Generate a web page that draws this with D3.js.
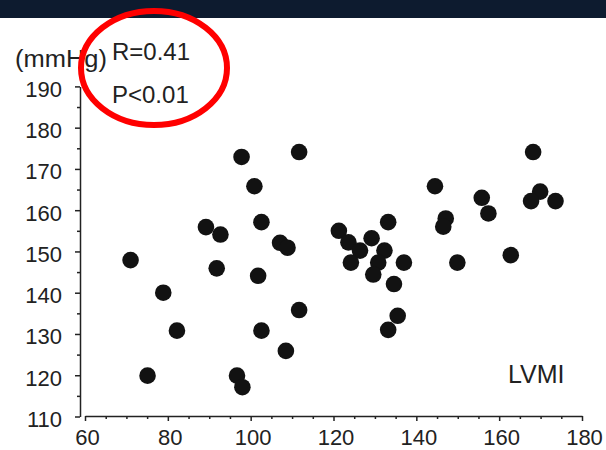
<!doctype html>
<html lang=en>
<head>
  <meta charset=utf-8>
  <title>LVMI vs blood pressure</title>
  <style>
    html, body {
      margin: 0;
      padding: 0;
      background: white;
    }
    svg {
      display: block;
      font-family: 'Liberation Sans', Arial, sans-serif;
    }
    .axis path, .axis line {
      stroke: #222;
      stroke-width: 1.5;
    }
    .axis text {
      fill: #222;
    }
  </style>
  <script src="https://cdn.jsdelivr.net/npm/d3@7"></script>
</head>
<body>
<svg id=chart width=606 height=450></svg>
<script>
  // LVMI on x, pressure (mmHg) on y
  const lvmi = [
    97.8, 111.7, 100.9, 102.6, 89.2, 92.7, 107.1, 108.9, 71.0, 91.8,
    101.8, 78.9, 111.7, 82.2, 102.6, 108.5, 75.1, 96.7, 98.0,
    168.2, 144.5, 155.8, 169.9, 167.7, 173.6, 157.4, 133.2, 147.1, 146.5,
    121.3, 123.6, 129.2, 126.4, 132.3, 124.2, 130.8, 129.6, 137.0, 149.9,
    162.8, 134.6, 135.5, 133.2,
  ]
  const sbp = [
    172.9, 174.1, 165.8, 157.1, 155.9, 154.1, 152.1, 150.9, 147.9, 145.9,
    144.1, 140.0, 135.8, 130.8, 130.8, 125.9, 119.9, 119.9, 117.1,
    174.1, 165.8, 163.0, 164.5, 162.2, 162.2, 159.2, 157.1, 158.0, 156.0,
    155.0, 152.2, 153.2, 150.2, 150.2, 147.3, 147.3, 144.4, 147.3, 147.3,
    149.1, 142.1, 134.4, 131.0,
  ]
  const xTicks = [60, 80, 100, 120, 140, 160, 180]
  const xMinor = d3.range(65, 180, 5).filter(v => v % 20 !== 0)
  const yTicks = [110, 120, 130, 140, 150, 160, 170, 180, 190]
  const yMinor = d3.range(115, 190, 10)

  const stats = ['R=0.41', 'P<0.01']

  const svg = d3.select('#chart')

  // dark strip along the top edge
  svg.append('rect')
    .attr('width', 606)
    .attr('height', 18)
    .attr('fill', '#0d1b2f')

  const x = d3.scaleLinear()
    .domain([60, 180])
    .range([85, 582])
  const y = d3.scaleLinear()
    .domain([110, 190])
    .range([416.5, 86.4])

  const gx = svg.append('g')
    .attr('class', 'axis')
    .attr('transform', 'translate(0,416)')
  gx.call(d3.axisBottom(x).tickValues(xTicks).tickSize(5).tickSizeOuter(0).tickPadding(8.5))
  gx.append('g')
    .call(d3.axisBottom(x).tickValues(xMinor).tickSize(3).tickFormat(''))
    .select('.domain').remove()
  gx.selectAll('text')
    .attr('font-size', 22)
    .attr('dx', 2)

  const gy = svg.append('g')
    .attr('class', 'axis')
    .attr('transform', 'translate(80,0)')
  gy.call(d3.axisLeft(y).tickValues(yTicks).tickSize(5).tickSizeOuter(0).tickPadding(13))
  gy.append('g')
    .call(d3.axisLeft(y).tickValues(yMinor).tickSize(3).tickFormat(''))
    .select('.domain').remove()
  gy.selectAll('text')
    .attr('font-size', 22)
    .attr('dy', '0.45em')

  svg.append('g')
    .selectAll('circle')
    .data(d3.zip(lvmi, sbp))
    .enter()
    .append('circle')
      .attr('cx', d => x(d[0]))
      .attr('cy', d => y(d[1]))
      .attr('r', 8.3)
      .attr('fill', '#121212')

  svg.append('text')
    .attr('x', 15)
    .attr('y', 67)
    .attr('font-size', 23)
    .attr('textLength', 92)
    .attr('lengthAdjust', 'spacingAndGlyphs')
    .attr('fill', '#222')
    .text('(mmHg)')

  svg.append('g')
    .selectAll('text')
    .data(stats)
    .enter()
    .append('text')
      .attr('x', 112)
      .attr('y', (d, i) => 60 + i * 43)
      .attr('font-size', 24)
      .attr('fill', '#222')
      .text(d => d)

  svg.append('text')
    .attr('x', 508)
    .attr('y', 383)
    .attr('font-size', 25)
    .attr('fill', '#222')
    .text('LVMI')

  svg.append('ellipse')
    .attr('cx', 154)
    .attr('cy', 68)
    .attr('rx', 73)
    .attr('ry', 57)
    .attr('fill', 'none')
    .attr('stroke', '#ff0000')
    .attr('stroke-width', 6)
</script>
</body>
</html>
